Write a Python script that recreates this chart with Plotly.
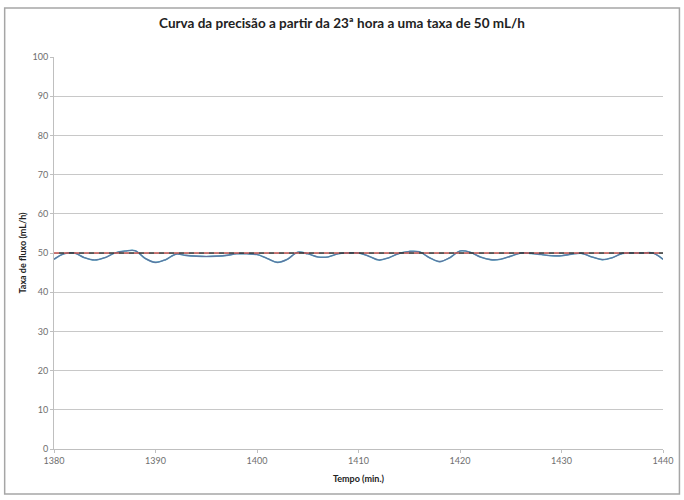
import plotly.graph_objects as go

tempo = list(range(1380, 1441))
fluxo = [48.4, 49.8, 50.0, 48.8, 48.2, 48.8, 50.0, 50.5, 50.6, 48.6,
         47.6, 48.3, 49.7, 49.4, 49.2, 49.1, 49.2, 49.4, 49.8, 49.8,
         49.6, 48.6, 47.6, 48.4, 50.2, 49.8, 49.0, 49.0, 49.8, 50.0,
         50.0, 49.2, 48.2, 48.8, 49.9, 50.4, 50.3, 48.8, 47.8, 48.8,
         50.5, 50.2, 49.0, 48.3, 48.4, 49.2, 50.0, 49.9, 49.6, 49.3,
         49.3, 49.7, 49.9, 49.0, 48.3, 48.8, 49.9, 50.0, 50.0, 50.0,
         48.4]

# programmed rate
ref_tempo = [1380, 1440]
ref_taxa = [50, 50]

x_ticks = [1380, 1390, 1400, 1410, 1420, 1430, 1440]
y_ticks = [0, 10, 20, 30, 40, 50, 60, 70, 80, 90, 100]

fnt = "Lato, 'Open Sans', sans-serif"

fig = go.Figure()

fig.add_trace(go.Scatter(
    x=tempo, y=fluxo, mode="lines", line_shape="spline",
    line=dict(color="#4BACC6", width=1.6), showlegend=False))
fig.add_trace(go.Scatter(
    x=tempo, y=fluxo, mode="lines", line_shape="spline",
    line=dict(color="#62729E", width=1.1), showlegend=False))

fig.add_trace(go.Scatter(
    x=ref_tempo, y=ref_taxa, mode="lines",
    line=dict(color="#C0504D", width=1.6, dash="5px,5px"), showlegend=False))
fig.add_trace(go.Scatter(
    x=ref_tempo, y=ref_taxa, mode="lines",
    line=dict(color="#333333", width=1.6, dash="0px,5px,5px,0px"), showlegend=False))

fig.update_xaxes(
    range=[1380, 1440], tickvals=x_ticks, ticktext=[str(v) for v in x_ticks],
    showgrid=False, showline=True, linecolor="#BFBFBF", linewidth=1,
    ticks="outside", ticklen=3, tickcolor="#BFBFBF",
    tickfont=dict(family=fnt, size=9, color="#6E6E6E"),
    title=dict(text="<b>Tempo (min.)</b>", standoff=10,
               font=dict(family=fnt, size=9, color="#222222")),
    zeroline=False)
fig.update_yaxes(
    range=[0, 100], tickvals=y_ticks,
    showgrid=True, gridcolor="#C8C8C8", gridwidth=1,
    showline=True, linecolor="#BFBFBF", linewidth=1,
    ticks="outside", ticklen=3, tickcolor="#BFBFBF",
    tickfont=dict(family=fnt, size=9, color="#6E6E6E"),
    title=dict(text="<b>Taxa de fluxo (mL/h)</b>", standoff=4,
               font=dict(family=fnt, size=9, color="#222222")),
    zeroline=False)

# outer chart frame
fig.add_shape(type="rect", xref="paper", yref="paper",
              x0=-0.081, x1=1.027, y0=-0.115, y1=1.125,
              line=dict(color="#A6A6A6", width=1.5))

fig.update_layout(
    width=684, height=500,
    margin=dict(l=54, r=21, t=57, b=51),
    plot_bgcolor="white", paper_bgcolor="white",
    title=dict(text="<b>Curva da precisão a partir da 23ª hora a uma taxa de 50 mL/h</b>",
               x=0.5, xanchor="center", y=0.953, yanchor="middle",
               font=dict(family=fnt, size=13.5, color="#222222")),
)

fig.write_html("out.html", config={"displayModeBar": False},
               post_script="document.body.style.margin='0';")
